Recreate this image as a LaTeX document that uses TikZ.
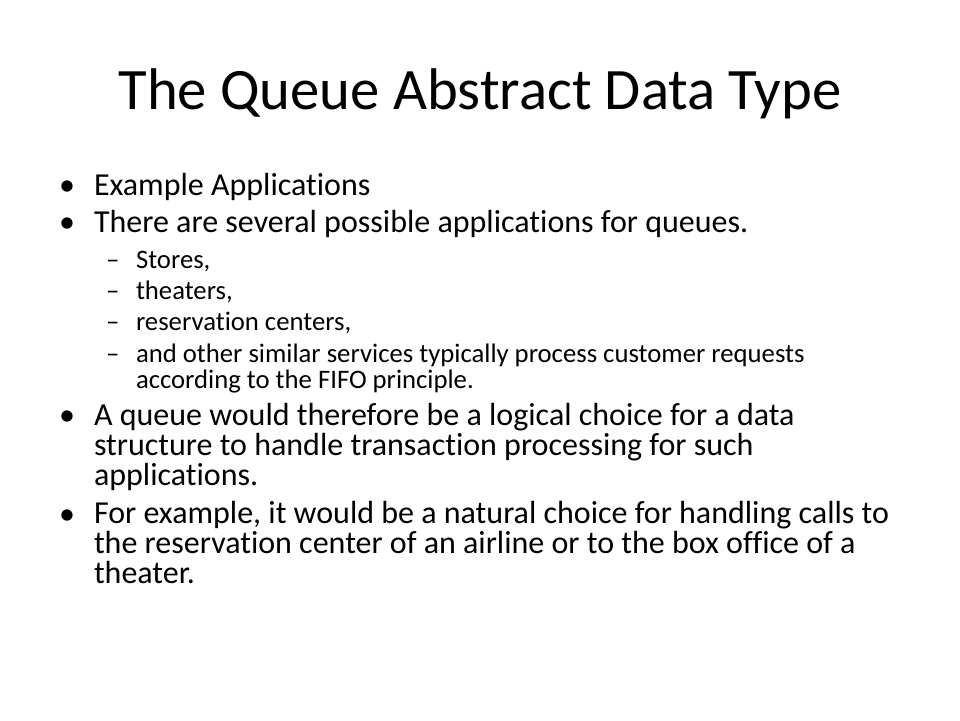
\documentclass[tikz,border=0pt]{standalone}
\usepackage{fontspec}
\setmainfont{Carlito}[Ligatures={NoCommon,NoContextual}]
\begin{document}
\begin{tikzpicture}[x=1pt,y=-1pt,
  every node/.style={inner sep=0pt,outer sep=0pt,anchor=base west,align=left},
  titletext/.style={font=\fontsize{58.7}{62}\selectfont},
  bodytext/.style={font=\fontsize{32}{30}\selectfont},
  subtext/.style={font=\fontsize{26.7}{26}\selectfont}]
\fill[white] (0,0) rectangle (960,720);
\useasboundingbox (0,0) rectangle (960,720);
\node[titletext,anchor=base] (title) at (480,109) {The Queue Abstract Data Type};
% level-1 bullets
\node[bodytext] (b1m) at (59,195) {•};
\node[bodytext] (b1) at (94,195) {Example Applications};
\node[bodytext] (b2m) at (59,232) {•};
\node[bodytext] (b2) at (94,232) {There are several possible applications for queues.};
% level-2 items
\node[subtext] (s1m) at (106,268) {–};
\node[subtext] (s1) at (136,268) {Stores,};
\node[subtext] (s2m) at (106,299) {–};
\node[subtext] (s2) at (136,299) {theaters,};
\node[subtext] (s3m) at (106,330) {–};
\node[subtext] (s3) at (136,330) {reservation centers,};
\node[subtext] (s4m) at (106,362) {–};
\node[subtext] (s4) at (136,388) {and other similar services typically process customer requests\\according to the FIFO principle.};
% level-1 bullets
\node[bodytext] (b3m) at (59,425) {•};
\node[bodytext] (b3) at (94,485) {A queue would therefore be a logical choice for a data\\structure to handle transaction processing for such\\applications.};
\node[bodytext] (b4m) at (59,524) {•};
\node[bodytext] (b4) at (94,583) {For example, it would be a natural choice for handling calls to\\the reservation center of an airline or to the box office of a\\theater.};
\end{tikzpicture}
\end{document}
